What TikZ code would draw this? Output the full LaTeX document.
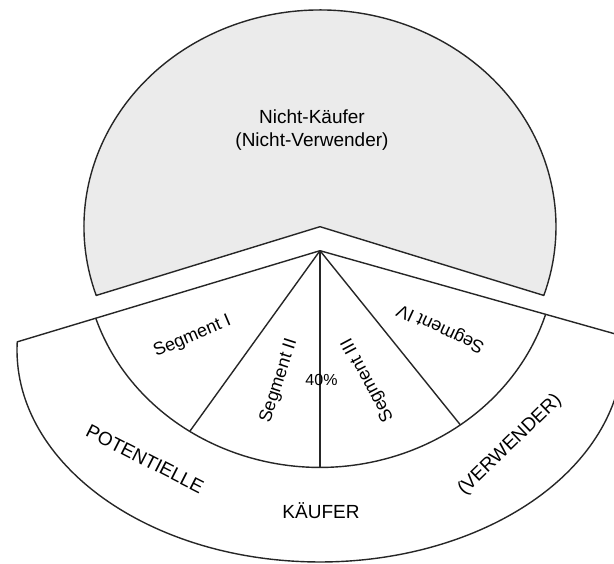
\documentclass[tikz,border=0pt]{standalone}
\usepackage{fontspec}
\setmainfont{Liberation Sans}
\usepackage{tikz}
\usetikzlibrary{calc}

\begin{document}
\begin{tikzpicture}[
  x=1pt, y=1pt,
  line join=round,
  edge/.style={draw=black!85, line width=1.4pt},
  nonbuyer/.style={edge, fill=black!8},
  buyer/.style={edge, fill=white},
  lbl/.style={font=\fontsize{19}{22.5}\selectfont, inner sep=0pt, align=center},
  seglbl/.style={font=\fontsize{18}{21}\selectfont, inner sep=0pt},
]
  \clip (0,0) rectangle (614,564);

  % Centres
  \coordinate (notch) at (320,337.3);
  \coordinate (hub) at (320,313.3);
  \coordinate (rim) at (320,214);

  % Sectors
  \draw[nonbuyer] (notch) -- ++(198.5:236 and 216.7)
    arc[start angle=198.5, end angle=-18.5, x radius=236, y radius=216.7] -- cycle;
  \draw[buyer] (hub) -- ($(rim)+(177.8:303 and 212)$)
    arc[start angle=177.8, end angle=363.8, x radius=303, y radius=212] -- cycle;
  \draw[edge] (hub) ++(198.1:236 and 216.7)
    arc[start angle=198.1, end angle=343, x radius=236, y radius=216.7];

  % Segments
  \foreach \a in {236.5,270,306.5}
    \draw[edge] (hub) -- ++(\a:236 and 216.7);

  % Labels
  \node[lbl] (nonbuyers) at (312,434) {Nicht-K\"aufer\\(Nicht-Verwender)};
  \node[seglbl, rotate=23] (segI) at (192.5,227.3) {Segment I};
  \node[seglbl, rotate=72] (segII) at (279,183) {Segment II};
  \node[font=\fontsize{16}{19}\selectfont, inner sep=0pt] (share) at (321.5,184) {40\%};
  \node[seglbl, rotate=118] (segIII) at (368,184) {Segment III};
  \node[seglbl, rotate=155] (segIV) at (441,236) {Segment IV};
  \node[lbl, rotate=-27] (potential) at (145,105) {POTENTIELLE};
  \node[lbl] (buyers) at (321,53) {K\"AUFER};
  \node[lbl, rotate=44] (users) at (510,119) {(VERWENDER)};
\end{tikzpicture}
\end{document}
